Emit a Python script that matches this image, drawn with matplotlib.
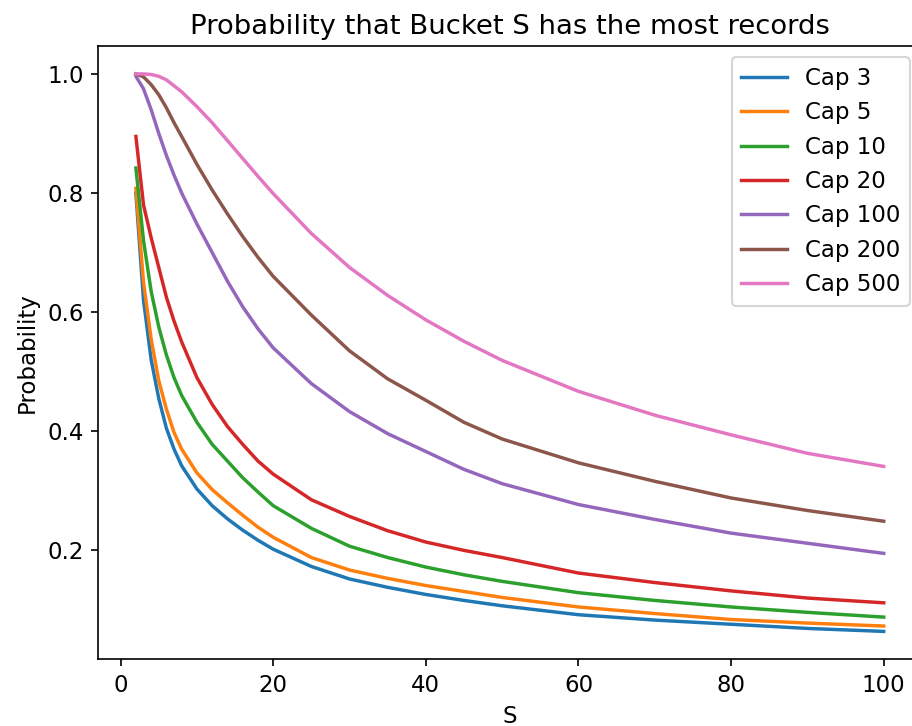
import matplotlib.pyplot as plt

plt.rcParams['font.size'] = 11
plt.rcParams['lines.linewidth'] = 1.65

s = [2, 3, 4, 5, 6, 7, 8, 10, 12, 14, 16, 18, 20, 25, 30, 35, 40, 45, 50, 60, 70, 80, 90, 100]

cap3 = [0.80, 0.62, 0.52, 0.455, 0.405, 0.37, 0.342, 0.303, 0.275, 0.253, 0.234, 0.217, 0.202,
        0.173, 0.152, 0.138, 0.126, 0.116, 0.107, 0.092, 0.083, 0.076, 0.069, 0.064]
cap5 = [0.808, 0.65, 0.555, 0.485, 0.437, 0.398, 0.37, 0.33, 0.302, 0.28, 0.259, 0.239, 0.222,
        0.188, 0.167, 0.153, 0.141, 0.131, 0.121, 0.105, 0.094, 0.084, 0.078, 0.073]
cap10 = [0.842, 0.72, 0.635, 0.575, 0.528, 0.49, 0.46, 0.415, 0.378, 0.35, 0.322, 0.298, 0.275,
         0.237, 0.207, 0.188, 0.172, 0.159, 0.148, 0.129, 0.116, 0.105, 0.096, 0.088]
cap20 = [0.895, 0.78, 0.725, 0.675, 0.625, 0.585, 0.55, 0.49, 0.445, 0.408, 0.378, 0.35, 0.328,
         0.285, 0.257, 0.233, 0.214, 0.2, 0.188, 0.162, 0.146, 0.132, 0.12, 0.112]
cap100 = [0.996, 0.975, 0.94, 0.9, 0.863, 0.83, 0.80, 0.748, 0.70, 0.652, 0.609, 0.572, 0.54,
          0.48, 0.433, 0.396, 0.366, 0.336, 0.312, 0.277, 0.252, 0.229, 0.212, 0.195]
cap200 = [1.0, 0.995, 0.982, 0.965, 0.943, 0.918, 0.895, 0.848, 0.805, 0.765, 0.727, 0.692, 0.66,
          0.595, 0.535, 0.488, 0.452, 0.415, 0.387, 0.347, 0.316, 0.288, 0.267, 0.249]
cap500 = [1.0, 1.0, 0.999, 0.996, 0.99, 0.98, 0.97, 0.945, 0.918, 0.888, 0.858, 0.828, 0.799,
          0.732, 0.675, 0.628, 0.587, 0.551, 0.519, 0.467, 0.427, 0.394, 0.363, 0.341]

caps = [3, 5, 10, 20, 100, 200, 500]
series = [cap3, cap5, cap10, cap20, cap100, cap200, cap500]

fig = plt.figure(figsize=(6.08, 4.84), dpi=150)
ax = fig.add_axes([0.108, 0.0919, 0.902, 0.8447])

for cap, p in zip(caps, series):
    ax.plot(s, p, label="Cap " + str(cap))

ax.set_title("Probability that Bucket S has the most records")
ax.set_xlabel("S")
ax.set_ylabel("Probability")
ax.legend(loc="upper right")

fig.savefig("out.png", dpi=150)
